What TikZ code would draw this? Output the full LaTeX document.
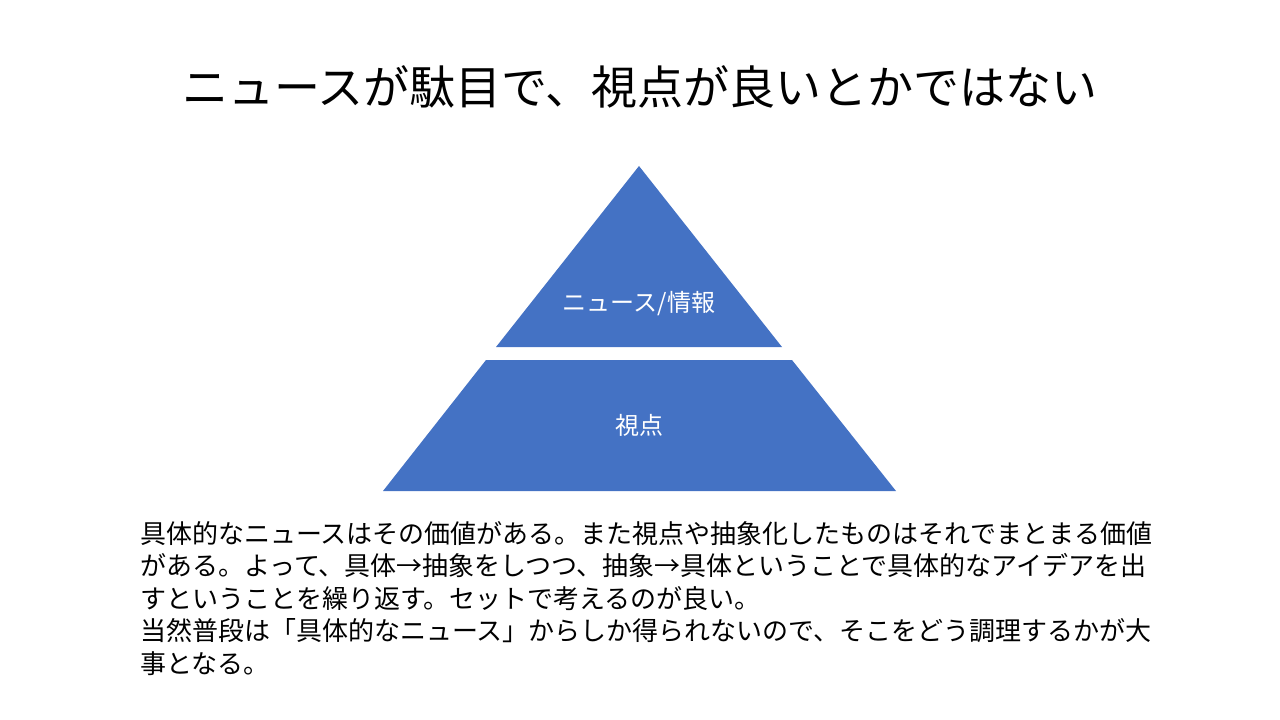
\documentclass[tikz,border=0pt]{standalone}
\usepackage{fontspec}
\setmainfont{Noto Sans CJK JP}
\definecolor{pyrblue}{HTML}{4472C4}
\tikzset{
  layer/.style={fill=pyrblue,draw=none},
  layerlabel/.style={text=white,font=\fontsize{24bp}{28bp}\selectfont,inner sep=0pt},
}
\begin{document}
\begin{tikzpicture}[x=1bp,y=-1bp]
  \useasboundingbox (0,0) rectangle (1280,720);
  % title
  \node[font=\fontsize{46bp}{54bp}\selectfont,inner sep=0pt] (title) at (640,87) {ニュースが駄目で、視点が良いとかではない};
  % pyramid
  \coordinate (apex) at (639,166);
  \fill[layer] (apex) -- (782,347) -- (496,347) -- cycle;
  \fill[layer] (486,360) -- (792,360) -- (896,491) -- (383,491) -- cycle;
  \node[layerlabel] (news) at (639,304) {ニュース/情報};
  \node[layerlabel] (view) at (639,425) {視点};
  % body text
  \node[anchor=north west,inner sep=0pt,align=left,font=\fontsize{26bp}{32.5bp}\selectfont] (body) at (140,521)
  {具体的なニュースはその価値がある。また視点や抽象化したものはそれでまとまる価値\\
   がある。よって、具体→抽象をしつつ、抽象→具体ということで具体的なアイデアを出\\
   すということを繰り返す。セットで考えるのが良い。\\
   当然普段は「具体的なニュース」からしか得られないので、そこをどう調理するかが大\\
   事となる。};
\end{tikzpicture}
\end{document}
